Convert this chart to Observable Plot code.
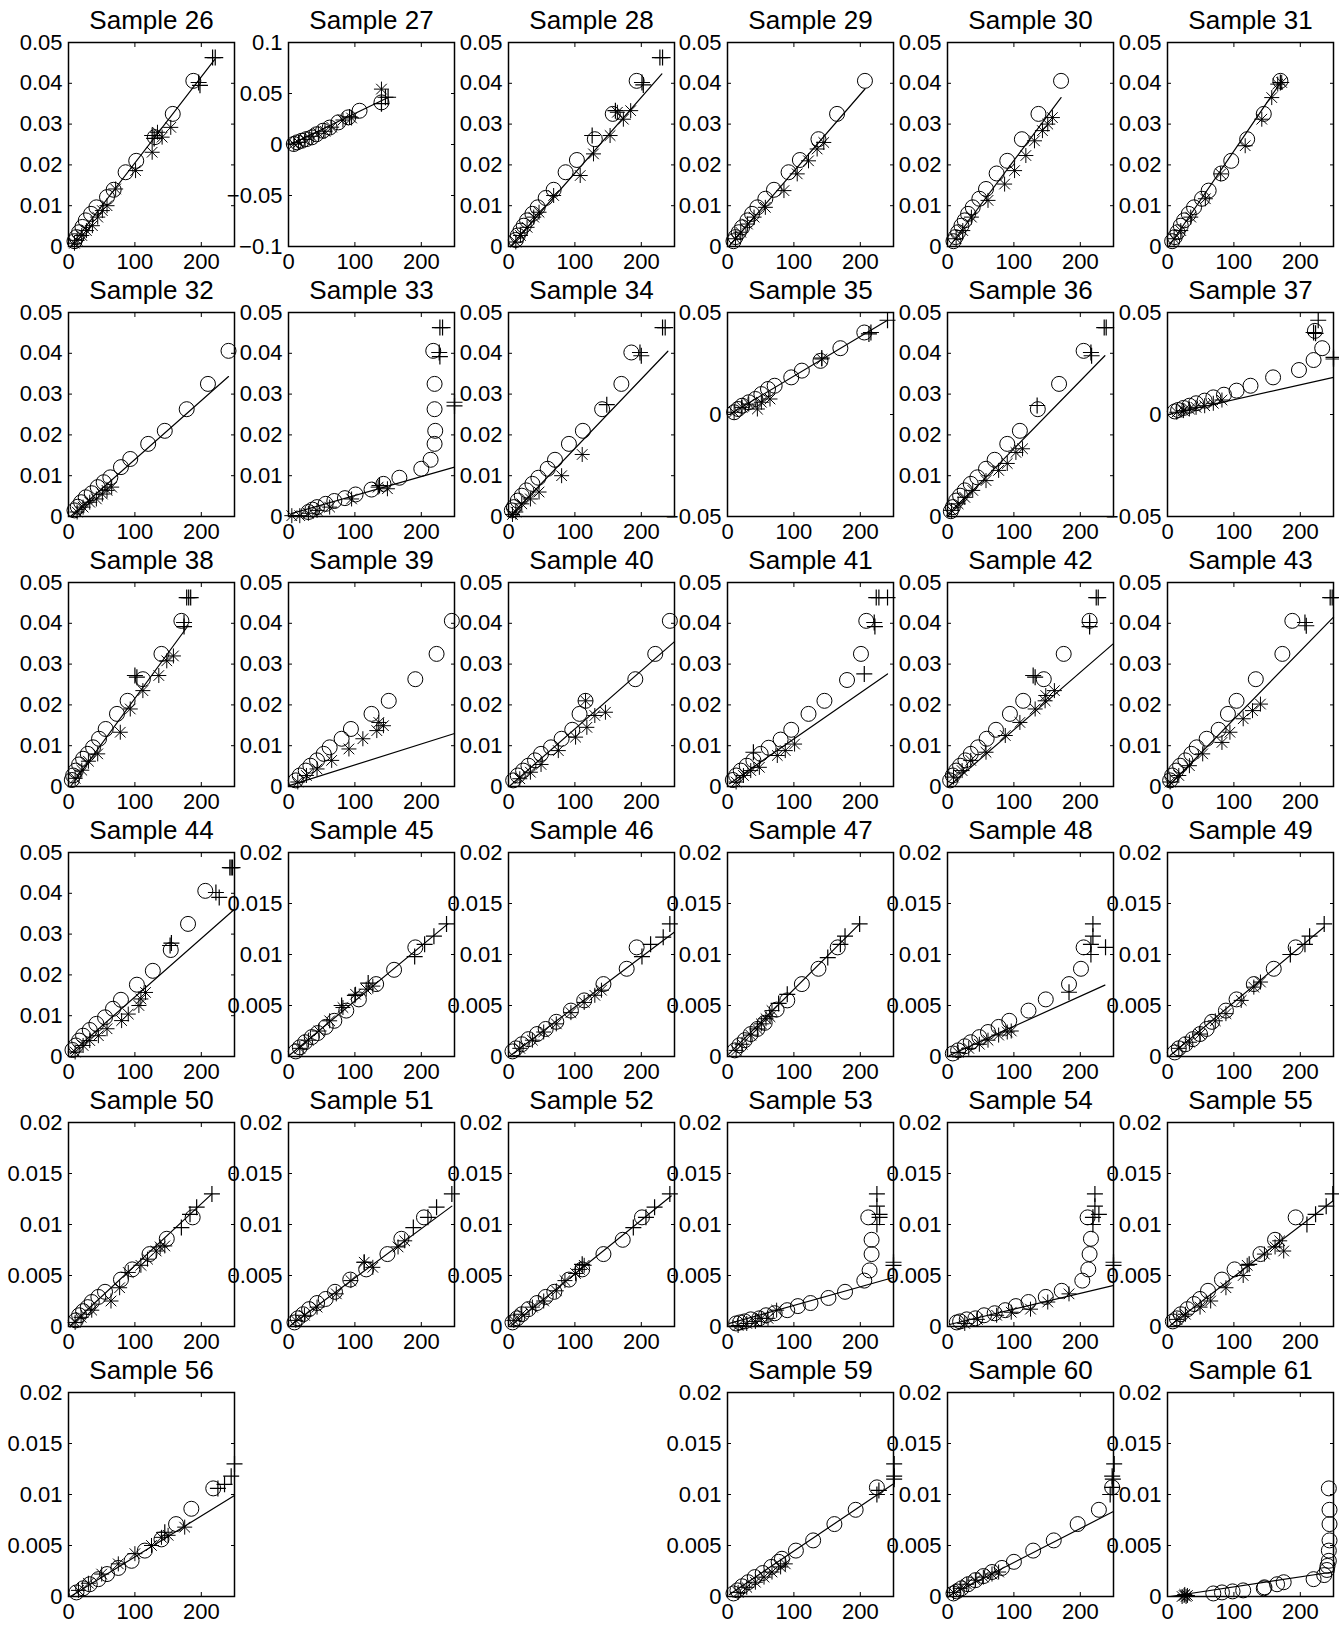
<!DOCTYPE html>
<html>
<head>
<meta charset="utf-8">
<script src="https://cdn.jsdelivr.net/npm/d3@7"></script>
<script src="https://cdn.jsdelivr.net/npm/@observablehq/plot@0.6"></script>
<style>
  html, body { margin: 0; padding: 0; background: #fff; }
  #wrap { position: relative; width: 1339px; height: 1627px; overflow: hidden; background: #fff; }
  .panel { position: absolute; }
  .panel svg { overflow: visible; max-width: none !important; }
</style>
</head>
<body>
<div id="wrap"></div>
<script>
// ---------- axis ticks ----------
const xDomain = [0, 250];
const xTicks = [0, 100, 200];
const xLabels = ["0", "100", "200"];
const yTicks05 = [0, 0.01, 0.02, 0.03, 0.04, 0.05];
const yLabels05 = ["0", "0.01", "0.02", "0.03", "0.04", "0.05"];
const yTicks02 = [0, 0.005, 0.01, 0.015, 0.02];
const yLabels02 = ["0", "0.005", "0.01", "0.015", "0.02"];
const yTicks10 = [-0.1, -0.05, 0, 0.05, 0.1];
const yLabels10 = ["\u22120.1", "\u22120.05", "0", "0.05", "0.1"];
const yTicks05s = [-0.05, 0, 0.05];
const yLabels05s = ["\u22120.05", "0", "0.05"];

// ---------- data: c = circles, s = asterisks, p = pluses, l = fitted line ----------
const c26 = [[188,0.0406],[157,0.0325],[130,0.0268],[102,0.021],[86,0.0182],[68,0.0139],[58,0.0121],[42,0.0096],[34,0.008],[26,0.0064],[21,0.0048],[16,0.0035],[12,0.0023],[9,0.0013]];
const s26 = [[154,0.0292],[141,0.0268],[134,0.028],[126,0.0231],[101,0.0186],[71,0.0141],[58,0.0100],[51,0.0088],[44,0.0072],[36,0.0051],[27,0.0039],[20,0.0027],[13,0.0015],[9,0.0008]];
const p26 = [[217,0.0463],[221,0.0463],[196,0.0402],[198,0.0395],[126,0.0272],[129,0.0265]];
const l26 = [[3,0],[220,0.0458]];

const c27 = [[140,0.0413],[107,0.0331],[90,0.0266],[75,0.0217],[62,0.0166],[52,0.0135],[42,0.010],[35,0.007],[27,0.0053],[20,0.0037],[13,0.0021],[8,0.0005]];
const s27 = [[140,0.0543],[95,0.026],[82,0.024],[65,0.017],[55,0.013],[45,0.011],[35,0.008],[25,0.005],[15,0.002],[8,0.0005]];
const p27 = [[150,0.0463],[146,0.0463],[140,0.040],[92,0.027]];
const l27 = [[3,0],[150,0.046]];

const c28 = [[193,0.0406],[157,0.0325],[130,0.0263],[103,0.0212],[86,0.0182],[68,0.0139],[56,0.0119],[44,0.0096],[36,0.008],[28,0.0064],[23,0.0051],[18,0.0039],[14,0.0027],[11,0.0016]];
const s28 = [[184,0.0333],[173,0.0312],[164,0.0329],[153,0.0272],[128,0.0227],[108,0.0174],[68,0.0125],[46,0.0084],[38,0.0072],[28,0.0047],[18,0.0027],[11,0.0011]];
const p28 = [[228,0.0463],[232,0.0463],[201,0.0402],[203,0.0396],[126,0.0272],[161,0.0333]];
const l28 = [[3,0],[231,0.0423]];

const c29 = [[207,0.0406],[165,0.0325],[137,0.0263],[109,0.0212],[92,0.0182],[70,0.0139],[57,0.0117],[45,0.0096],[37,0.008],[30,0.0064],[22,0.0047],[17,0.0035],[12,0.0023],[9,0.0013]];
const s29 = [[145,0.0255],[135,0.0239],[122,0.021],[105,0.0178],[85,0.0137],[57,0.0096],[40,0.0072],[30,0.0055],[20,0.0035],[12,0.0019]];
const p29 = [];
const l29 = [[2,0],[207,0.0386]];

const c30 = [[171,0.0406],[137,0.0325],[112,0.0263],[90,0.021],[74,0.0179],[58,0.0141],[48,0.0117],[38,0.0096],[31,0.008],[26,0.0064],[21,0.0051],[16,0.0035],[12,0.0023],[9,0.0013]];
const s30 = [[158,0.0316],[151,0.030],[143,0.0284],[131,0.0259],[118,0.0223],[101,0.0186],[86,0.0153],[61,0.0113],[36,0.0072],[23,0.0039],[13,0.0019]];
const p30 = [];
const l30 = [[3,0],[171,0.0365]];

const c31 = [[170,0.0406],[145,0.0325],[120,0.0263],[96,0.021],[81,0.0179],[62,0.0137],[52,0.0117],[40,0.0096],[32,0.008],[25,0.0064],[20,0.0051],[15,0.0035],[11,0.0023],[7,0.0013]];
const s31 = [[172,0.0402],[166,0.0398],[157,0.0365],[142,0.0312],[117,0.0247],[80,0.0178],[57,0.0117],[35,0.0072],[20,0.0039],[10,0.0019]];
const p31 = [[170,0.0402]];
const l31 = [[2,0],[172,0.0406]];

const c32 = [[241,0.0406],[210,0.0325],[178,0.0263],[145,0.021],[120,0.0178],[93,0.0141],[79,0.0121],[63,0.0096],[53,0.0084],[44,0.0072],[35,0.0057],[26,0.0047],[19,0.0035],[14,0.0024],[9,0.0015]];
const s32 = [[65,0.0072],[58,0.0064],[51,0.0055],[42,0.0043],[32,0.0035],[22,0.0023],[13,0.0011]];
const p32 = [];
const l32 = [[3,0],[241,0.0343]];

const c33 = [[218,0.0406],[220,0.0325],[220,0.0263],[221,0.021],[220,0.0178],[214,0.0139],[200,0.0117],[167,0.0095],[143,0.008],[125,0.0066],[101,0.0054],[85,0.0045],[69,0.0038],[56,0.0031],[43,0.0023],[36,0.0017],[30,0.0011]];
const s33 = [[149,0.0068],[135,0.0072],[95,0.0043],[62,0.0023],[43,0.0015],[30,0.0008],[17,0.0002],[5,0.0002]];
const p33 = [[228,0.0463],[232,0.0463],[227,0.0402],[228,0.0392],[250,0.0280],[250,0.0271],[137,0.0076]];
const l33 = [[4,0.0007],[250,0.0121]];

const c34 = [[185,0.0402],[170,0.0325],[141,0.0263],[112,0.021],[91,0.0178],[70,0.0139],[59,0.0117],[45,0.0095],[36,0.008],[27,0.0064],[20,0.0051],[14,0.0039],[8,0.0023],[5,0.0015]];
const s34 = [[111,0.0152],[80,0.010],[46,0.006],[33,0.0043],[20,0.0031],[11,0.0011],[6,0.0005]];
const p34 = [[232,0.0463],[236,0.0463],[198,0.0402],[200,0.0394],[148,0.0274]];
const l34 = [[2,0],[240,0.0405]];

const c35 = [[206,0.0402],[170,0.0325],[140,0.0263],[112,0.0215],[96,0.0182],[71,0.0141],[61,0.0125],[51,0.010],[42,0.0076],[32,0.006],[22,0.0043],[16,0.0027],[10,0.0011]];
const s35 = [[142,0.0272],[64,0.0076],[51,0.006],[45,0.0027],[32,0.0051],[22,0.0035],[10,0.0011]];
const p35 = [[241,0.0462],[216,0.0402],[213,0.0395],[142,0.0277]];
const l35 = [[3,0],[241,0.0462]];

const c36 = [[205,0.0406],[168,0.0325],[136,0.0263],[109,0.021],[90,0.0178],[71,0.0139],[58,0.0117],[45,0.0096],[35,0.008],[26,0.0064],[19,0.0051],[13,0.0039],[8,0.0023],[5,0.0013]];
const s36 = [[113,0.0166],[103,0.0157],[90,0.013],[77,0.0113],[58,0.0088],[38,0.0064],[26,0.0047],[16,0.0031],[6,0.0015]];
const p36 = [[236,0.0463],[239,0.0463],[216,0.0402],[217,0.0394],[135,0.0272]];
const l36 = [[0,0],[237,0.0394]];

const c37 = [[222,0.041],[233,0.0325],[220,0.0267],[198,0.0218],[159,0.0182],[125,0.0141],[104,0.0117],[85,0.0097],[69,0.0084],[56,0.0068],[43,0.0055],[33,0.0043],[24,0.0032],[16,0.0022],[11,0.0015]];
const s37 = [[82,0.0071],[69,0.0055],[56,0.0043],[43,0.0035],[33,0.0027],[24,0.0019],[14,0.0011]];
const p37 = [[227,0.0462],[220,0.0402],[223,0.0398],[250,0.0280],[250,0.0272]];
const l37 = [[1,0],[250,0.0182]];

const c38 = [[170,0.0406],[140,0.0325],[112,0.0263],[89,0.021],[73,0.0178],[56,0.0141],[46,0.0117],[37,0.0096],[29,0.008],[22,0.0068],[16,0.0054],[11,0.0039],[7,0.0027],[5,0.0016]];
const s38 = [[158,0.032],[148,0.0308],[136,0.0272],[112,0.0235],[93,0.019],[78,0.0133],[44,0.008],[30,0.0062],[20,0.004],[10,0.002]];
const p38 = [[178,0.0463],[181,0.0463],[184,0.0463],[174,0.0402],[174,0.0392],[100,0.0272],[103,0.0268]];
const l38 = [[3,0],[180,0.0394]];

const c39 = [[246,0.0406],[223,0.0325],[191,0.0263],[151,0.021],[125,0.0178],[94,0.0141],[80,0.0117],[62,0.0096],[53,0.008],[43,0.0064],[33,0.0051],[26,0.0039],[17,0.0027],[11,0.0015]];
const s39 = [[136,0.0157],[143,0.0149],[133,0.0137],[112,0.0117],[91,0.0092],[65,0.0064],[43,0.0043],[27,0.0027],[14,0.0011]];
const p39 = [];
const l39 = [[1,0.0002],[250,0.013]];

const c40 = [[243,0.0406],[221,0.0325],[191,0.0263],[116,0.021],[107,0.0178],[96,0.0139],[80,0.0117],[64,0.0096],[49,0.008],[40,0.0064],[30,0.0051],[22,0.0039],[14,0.0027],[7,0.0015]];
const s40 = [[116,0.021],[146,0.0182],[130,0.0174],[118,0.0145],[101,0.0121],[75,0.0088],[49,0.0054],[33,0.0035],[17,0.0019]];
const p40 = [];
const l40 = [[1,0],[250,0.0355]];

const c41 = [[209,0.0406],[201,0.0325],[180,0.0261],[146,0.021],[122,0.0178],[96,0.0139],[80,0.0115],[62,0.0095],[50,0.008],[39,0.0064],[29,0.0051],[20,0.0039],[13,0.0027],[8,0.0016]];
const s41 = [[101,0.0104],[87,0.0088],[75,0.0076],[48,0.0047],[35,0.0039],[24,0.0027],[13,0.0011]];
const p41 = [[224,0.0463],[228,0.0463],[241,0.0463],[221,0.0402],[222,0.0392],[206,0.0276],[39,0.0084]];
const l41 = [[3,0.0007],[241,0.0276]];

const c42 = [[214,0.0406],[175,0.0325],[145,0.0263],[114,0.021],[94,0.0178],[73,0.0139],[59,0.0117],[46,0.0096],[35,0.008],[27,0.0064],[19,0.0051],[13,0.0039],[8,0.0027],[4,0.0015]];
const s42 = [[161,0.0235],[148,0.0223],[147,0.021],[132,0.019],[109,0.0157],[87,0.0125],[58,0.0084],[35,0.0064],[22,0.0039],[9,0.0023]];
const p42 = [[224,0.0463],[227,0.0463],[214,0.0402],[214,0.0392],[129,0.0272],[132,0.0268]];
const l42 = [[3,0.0002],[249,0.0349]];

const c43 = [[188,0.0406],[173,0.0325],[133,0.0263],[104,0.021],[91,0.0178],[77,0.0139],[59,0.0117],[44,0.0096],[36,0.008],[27,0.0064],[19,0.0051],[13,0.0039],[7,0.0027],[4,0.0015]];
const s43 = [[140,0.0202],[128,0.0186],[114,0.0166],[94,0.0133],[82,0.0108],[53,0.008],[33,0.0051],[17,0.0027],[4,0.0011]];
const p43 = [[245,0.0463],[248,0.0463],[207,0.0402],[209,0.0394]];
const l43 = [[1,0],[250,0.0415]];

const c44 = [[206,0.0406],[180,0.0325],[154,0.0261],[127,0.021],[103,0.0176],[79,0.0139],[67,0.0117],[55,0.0096],[42,0.008],[32,0.0065],[22,0.0051],[16,0.0039],[11,0.0027],[6,0.0016]];
const s44 = [[116,0.0157],[109,0.0141],[106,0.0125],[90,0.0104],[80,0.0088],[58,0.0068],[45,0.0051],[32,0.0039],[22,0.0027],[10,0.0011]];
const p44 = [[243,0.0463],[245,0.0463],[247,0.0463],[222,0.0402],[227,0.039],[153,0.0272],[155,0.0278]];
const l44 = [[3,0.0007],[250,0.0361]];

const c45 = [[191,0.0107],[159,0.0085],[132,0.0071],[106,0.0056],[87,0.0045],[69,0.0035],[56,0.0029],[44,0.0023],[35,0.0019],[25,0.0014],[17,0.0009],[11,0.0005]];
const s45 = [[127,0.0069],[117,0.0066],[101,0.0061],[82,0.0048],[62,0.0035],[46,0.0025],[30,0.0016],[17,0.0008]];
const p45 = [[238,0.013],[219,0.0118],[205,0.011],[190,0.0098],[120,0.0072],[100,0.006],[80,0.005]];
const l45 = [[1,0.0001],[240,0.013]];

const c46 = [[193,0.0107],[178,0.0086],[143,0.0071],[114,0.0055],[94,0.0045],[72,0.0034],[56,0.0027],[43,0.0022],[30,0.0017],[20,0.0012],[11,0.0008],[6,0.0005]];
const s46 = [[140,0.0065],[130,0.006],[114,0.0053],[94,0.0043],[72,0.0032],[53,0.0024],[36,0.0016],[17,0.0008]];
const p46 = [[243,0.013],[233,0.0117],[214,0.011],[201,0.0098]];
const l46 = [[1,0],[250,0.0122]];

const c47 = [[166,0.0107],[137,0.0086],[112,0.0071],[90,0.0055],[74,0.0046],[56,0.0033],[45,0.0027],[35,0.0022],[26,0.0016],[18,0.0011],[11,0.0006]];
const s47 = [[67,0.0045],[64,0.0039],[58,0.0037],[51,0.0032],[45,0.0027],[35,0.0021],[22,0.0012],[13,0.0006]];
const p47 = [[199,0.013],[177,0.0118],[170,0.011],[151,0.0097],[90,0.0061],[77,0.0052]];
const l47 = [[3,0.0003],[199,0.013]];

const c48 = [[205,0.0107],[201,0.0086],[183,0.0071],[148,0.0056],[122,0.0045],[93,0.0035],[77,0.0029],[61,0.0024],[48,0.0019],[35,0.0014],[26,0.001],[16,0.0006],[8,0.0003]];
const s48 = [[96,0.0025],[90,0.0024],[77,0.0021],[61,0.0016],[48,0.0012],[32,0.0008],[16,0.0004]];
const p48 = [[219,0.013],[219,0.0118],[216,0.011],[238,0.0107],[216,0.010],[183,0.0063]];
const l48 = [[3,0.0001],[237,0.007]];

const c49 = [[193,0.0107],[160,0.0086],[130,0.0071],[104,0.0056],[88,0.0045],[67,0.0034],[59,0.0027],[49,0.0022],[38,0.0017],[27,0.0012],[17,0.0008],[11,0.0004]];
const s49 = [[140,0.0073],[130,0.0068],[111,0.0055],[88,0.0042],[72,0.0035],[49,0.0022],[33,0.0014],[17,0.0008]];
const p49 = [[236,0.013],[214,0.0118],[207,0.011],[185,0.010]];
const l49 = [[4,0.0001],[236,0.0127]];

const c50 = [[187,0.0107],[148,0.0086],[122,0.0071],[96,0.0056],[79,0.0046],[55,0.0034],[45,0.0029],[35,0.0024],[29,0.0019],[22,0.0015],[16,0.0011],[11,0.0006]];
const s50 = [[145,0.0079],[138,0.0078],[132,0.0074],[119,0.0066],[109,0.006],[90,0.0053],[77,0.0038],[64,0.0025],[35,0.0016],[19,0.0009],[10,0.0004]];
const p50 = [[216,0.013],[193,0.0117],[183,0.011],[170,0.0097]];
const l50 = [[3,0.0001],[216,0.013]];

const c51 = [[204,0.0107],[170,0.0086],[149,0.0071],[117,0.0056],[93,0.0046],[70,0.0034],[56,0.0027],[43,0.0023],[31,0.0017],[22,0.0012],[14,0.0008],[9,0.0004]];
const s51 = [[175,0.0084],[165,0.0078],[127,0.0058],[114,0.0063],[94,0.0045],[72,0.0032],[43,0.0019],[24,0.0011],[11,0.0006]];
const p51 = [[246,0.013],[223,0.0117],[210,0.0107],[188,0.0097],[114,0.0063]];
const l51 = [[3,0.0001],[246,0.0118]];

const c52 = [[201,0.0107],[172,0.0085],[143,0.0071],[111,0.0056],[91,0.0046],[69,0.0034],[56,0.0029],[43,0.0023],[30,0.0017],[20,0.0012],[13,0.0008],[6,0.0004]];
const s52 = [[114,0.006],[107,0.0056],[101,0.0052],[85,0.0045],[72,0.0035],[53,0.0025],[36,0.0019],[20,0.0012],[8,0.0006]];
const p52 = [[243,0.013],[220,0.0117],[207,0.0107],[188,0.0097],[111,0.0061]];
const l52 = [[4,0.0001],[245,0.0128]];

const c53 = [[212,0.0107],[217,0.0085],[217,0.0071],[214,0.0055],[206,0.0045],[177,0.0034],[152,0.0028],[125,0.0023],[106,0.002],[90,0.0016],[71,0.0013],[58,0.0011],[48,0.0008],[35,0.0007],[26,0.0005],[19,0.0004],[13,0.0003]];
const s53 = [[74,0.0016],[61,0.0008],[51,0.0008],[42,0.0005],[29,0.0003],[16,0.0001]];
const p53 = [[225,0.013],[225,0.0118],[229,0.011],[229,0.0107],[225,0.010],[250,0.0063],[250,0.006]];
const l53 = [[3,0.0003],[250,0.0048]];

const c54 = [[211,0.0107],[216,0.0086],[214,0.0071],[212,0.0056],[203,0.0045],[172,0.0035],[148,0.0029],[122,0.0024],[103,0.002],[87,0.0016],[71,0.0013],[55,0.0011],[42,0.0008],[29,0.0007],[19,0.0005],[14,0.0004]];
const s54 = [[183,0.0032],[151,0.0024],[125,0.0017],[96,0.0014],[74,0.0011],[45,0.0007],[26,0.0003]];
const p54 = [[222,0.013],[222,0.0118],[228,0.011],[219,0.0107],[219,0.010],[250,0.0063],[250,0.006]];
const l54 = [[3,0.0002],[249,0.004]];

const c55 = [[193,0.0107],[162,0.0085],[140,0.0071],[101,0.0056],[82,0.0046],[61,0.0035],[49,0.0027],[40,0.0022],[30,0.0017],[20,0.0012],[14,0.0008],[8,0.0005]];
const s55 = [[169,0.0084],[175,0.0074],[162,0.0078],[146,0.0071],[120,0.006],[114,0.005],[88,0.0038],[65,0.0025],[49,0.0019],[27,0.0012],[14,0.0007]];
const p55 = [[249,0.013],[239,0.0118],[223,0.011],[210,0.010],[123,0.0061]];
const l55 = [[4,0.0001],[249,0.0123]];

const c56 = [[218,0.0106],[185,0.0086],[162,0.0071],[140,0.0056],[115,0.0045],[95,0.0035],[75,0.0028],[58,0.0022],[45,0.0017],[32,0.0012],[22,0.0008],[12,0.0004]];
const s56 = [[175,0.0068],[150,0.006],[140,0.0058],[125,0.005],[100,0.0042],[75,0.0032],[50,0.0022],[30,0.0013],[15,0.0006]];
const p56 = [[250,0.013],[245,0.0118],[235,0.011],[225,0.0106],[145,0.0063]];
const l56 = [[3,0],[250,0.0099]];

const c59 = [[225,0.0107],[193,0.0085],[161,0.0071],[129,0.0055],[103,0.0045],[82,0.0037],[77,0.0034],[66,0.0029],[53,0.0023],[41,0.0019],[31,0.0014],[22,0.001],[15,0.0006],[9,0.0003]];
const s59 = [[87,0.0032],[80,0.0029],[67,0.0024],[55,0.0019],[42,0.0014],[29,0.0009],[16,0.0004]];
const p59 = [[251,0.013],[251,0.0118],[251,0.0115],[225,0.010],[228,0.0104]];
const l59 = [[3,0.0002],[249,0.011]];

const c60 = [[248,0.0107],[228,0.0085],[196,0.0071],[160,0.0055],[129,0.0045],[100,0.0034],[82,0.0028],[67,0.0024],[54,0.002],[42,0.0016],[31,0.0012],[21,0.0008],[14,0.0005],[9,0.0003]];
const s60 = [[77,0.0024],[67,0.0022],[54,0.0019],[42,0.0016],[29,0.0012],[19,0.0008],[9,0.0004]];
const p60 = [[251,0.013],[248,0.0118],[249,0.0115],[248,0.0107],[245,0.010]];
const l60 = [[3,0.0001],[249,0.0083]];

const c61 = [[243,0.0106],[244,0.0085],[244,0.0071],[244,0.0055],[243,0.0045],[243,0.0035],[241,0.003],[240,0.0026],[236,0.0021],[220,0.0017],[175,0.0014],[165,0.0012],[146,0.0009],[145,0.0008],[114,0.0006],[98,0.0005],[82,0.0004],[69,0.0003]];
const s61 = [[22,0],[25,0.0001],[28,0],[30,0.0001],[26,0.0002]];
const p61 = [];
const l61 = [[4,0],[249,0.0024]];

// ---------- panel list ----------
const panels = [
  {id:26,y:"a",c:c26,s:s26,p:p26,l:l26},{id:27,y:"w",c:c27,s:s27,p:p27,l:l27},
  {id:28,y:"a",c:c28,s:s28,p:p28,l:l28},{id:29,y:"a",c:c29,s:s29,p:p29,l:l29},
  {id:30,y:"a",c:c30,s:s30,p:p30,l:l30},{id:31,y:"a",c:c31,s:s31,p:p31,l:l31},
  {id:32,y:"a",c:c32,s:s32,p:p32,l:l32},{id:33,y:"a",c:c33,s:s33,p:p33,l:l33},
  {id:34,y:"a",c:c34,s:s34,p:p34,l:l34},{id:35,y:"s",c:c35,s:s35,p:p35,l:l35},
  {id:36,y:"a",c:c36,s:s36,p:p36,l:l36},{id:37,y:"s",c:c37,s:s37,p:p37,l:l37},
  {id:38,y:"a",c:c38,s:s38,p:p38,l:l38},{id:39,y:"a",c:c39,s:s39,p:p39,l:l39},
  {id:40,y:"a",c:c40,s:s40,p:p40,l:l40},{id:41,y:"a",c:c41,s:s41,p:p41,l:l41},
  {id:42,y:"a",c:c42,s:s42,p:p42,l:l42},{id:43,y:"a",c:c43,s:s43,p:p43,l:l43},
  {id:44,y:"a",c:c44,s:s44,p:p44,l:l44},{id:45,y:"b",c:c45,s:s45,p:p45,l:l45},
  {id:46,y:"b",c:c46,s:s46,p:p46,l:l46},{id:47,y:"b",c:c47,s:s47,p:p47,l:l47},
  {id:48,y:"b",c:c48,s:s48,p:p48,l:l48},{id:49,y:"b",c:c49,s:s49,p:p49,l:l49},
  {id:50,y:"b",c:c50,s:s50,p:p50,l:l50},{id:51,y:"b",c:c51,s:s51,p:p51,l:l51},
  {id:52,y:"b",c:c52,s:s52,p:p52,l:l52},{id:53,y:"b",c:c53,s:s53,p:p53,l:l53},
  {id:54,y:"b",c:c54,s:s54,p:p54,l:l54},{id:55,y:"b",c:c55,s:s55,p:p55,l:l55},
  {id:56,y:"b",c:c56,s:s56,p:p56,l:l56},{id:59,y:"b",c:c59,s:s59,p:p59,l:l59},
  {id:60,y:"b",c:c60,s:s60,p:p60,l:l60},{id:61,y:"b",c:c61,s:s61,p:p61,l:l61}
];

const ySets = {
  a: {domain: [0, 0.05], ticks: yTicks05, labels: yLabels05},
  b: {domain: [0, 0.02], ticks: yTicks02, labels: yLabels02},
  w: {domain: [-0.1, 0.1], ticks: yTicks10, labels: yLabels10},
  s: {domain: [-0.05, 0.05], ticks: yTicks05s, labels: yLabels05s}
};

// ---------- layout ----------
const FONT = "'Liberation Sans', Arial, Helvetica, sans-serif";
const FW = 166, FH = 204;
const ML = 78, MR = 22, MT = 52, MB = 36;
const COL0 = 68, COLSTEP = 219.8, ROW0 = 42, ROWSTEP = 270;

// MATLAB-like marker shapes (arm length = r)
const plusSym = {
  draw(ctx, size) {
    const r = Math.sqrt(size / Math.PI);
    ctx.moveTo(-r, 0); ctx.lineTo(r, 0);
    ctx.moveTo(0, -r); ctx.lineTo(0, r);
  }
};
const starSym = {
  draw(ctx, size) {
    const r = Math.sqrt(size / Math.PI);
    const d = r * Math.SQRT1_2;
    ctx.moveTo(-r, 0); ctx.lineTo(r, 0);
    ctx.moveTo(0, -r); ctx.lineTo(0, r);
    ctx.moveTo(-d, -d); ctx.lineTo(d, d);
    ctx.moveTo(-d, d); ctx.lineTo(d, -d);
  }
};

const wrap = document.getElementById("wrap");
const X = d => d[0], Y = d => d[1];

for (const pn of panels) {
  const idx = pn.id - 26;
  const row = Math.floor(idx / 6), col = idx % 6;
  const ys = ySets[pn.y];
  const fmtY = v => { const i = ys.ticks.indexOf(v); return i >= 0 ? ys.labels[i] : ""; };
  const fmtX = v => { const i = xTicks.indexOf(v); return i >= 0 ? xLabels[i] : ""; };
  const blank = () => "";
  const W = ML + FW + MR, H = MT + FH + MB;

  const chart = Plot.plot({
    width: W,
    height: H,
    marginLeft: ML, marginRight: MR, marginTop: MT, marginBottom: MB,
    x: {domain: xDomain},
    y: {domain: ys.domain},
    style: {background: "transparent", overflow: "visible", fontFamily: FONT, color: "#000", maxWidth: "none"},
    marks: [
      // inward ticks on all four sides
      Plot.axisX({ticks: xTicks, anchor: "bottom", tickSize: -4, tickFormat: blank, label: null}),
      Plot.axisX({ticks: xTicks, anchor: "top", tickSize: -4, tickFormat: blank, label: null}),
      Plot.axisY({ticks: ys.ticks, anchor: "left", tickSize: -4, tickFormat: blank, label: null}),
      Plot.axisY({ticks: ys.ticks, anchor: "right", tickSize: -4, tickFormat: blank, label: null}),
      // labels
      Plot.axisX({ticks: xTicks, anchor: "bottom", tickSize: 0, tickPadding: 7, fontSize: 22, tickFormat: fmtX, label: null}),
      Plot.axisY({ticks: ys.ticks, anchor: "left", tickSize: 0, tickPadding: 6, fontSize: 22, tickFormat: fmtY, label: null}),
      Plot.frame({stroke: "#000", strokeWidth: 1.5}),
      Plot.line(pn.l, {x: X, y: Y, stroke: "#000", strokeWidth: 1.2}),
      Plot.dot(pn.c, {x: X, y: Y, r: 7.5, stroke: "#000", fill: "none", strokeWidth: 1}),
      Plot.dot(pn.s, {x: X, y: Y, r: 7.5, symbol: starSym, stroke: "#000", fill: "none", strokeWidth: 1}),
      Plot.dot(pn.p, {x: X, y: Y, r: 8, symbol: plusSym, stroke: "#000", fill: "none", strokeWidth: 1.2}),
      Plot.text([`Sample ${pn.id}`], {text: d => d, frameAnchor: "top", dy: -32, fontSize: 26, fill: "#000"})
    ]
  });

  const holder = document.createElement("div");
  holder.className = "panel";
  holder.style.left = (COL0 + col * COLSTEP - ML) + "px";
  holder.style.top = (ROW0 + row * ROWSTEP - MT) + "px";
  holder.style.width = W + "px";
  holder.style.height = H + "px";
  chart.style.width = W + "px";
  chart.style.height = H + "px";
  holder.appendChild(chart);
  wrap.appendChild(holder);
}
</script>
</body>
</html>
